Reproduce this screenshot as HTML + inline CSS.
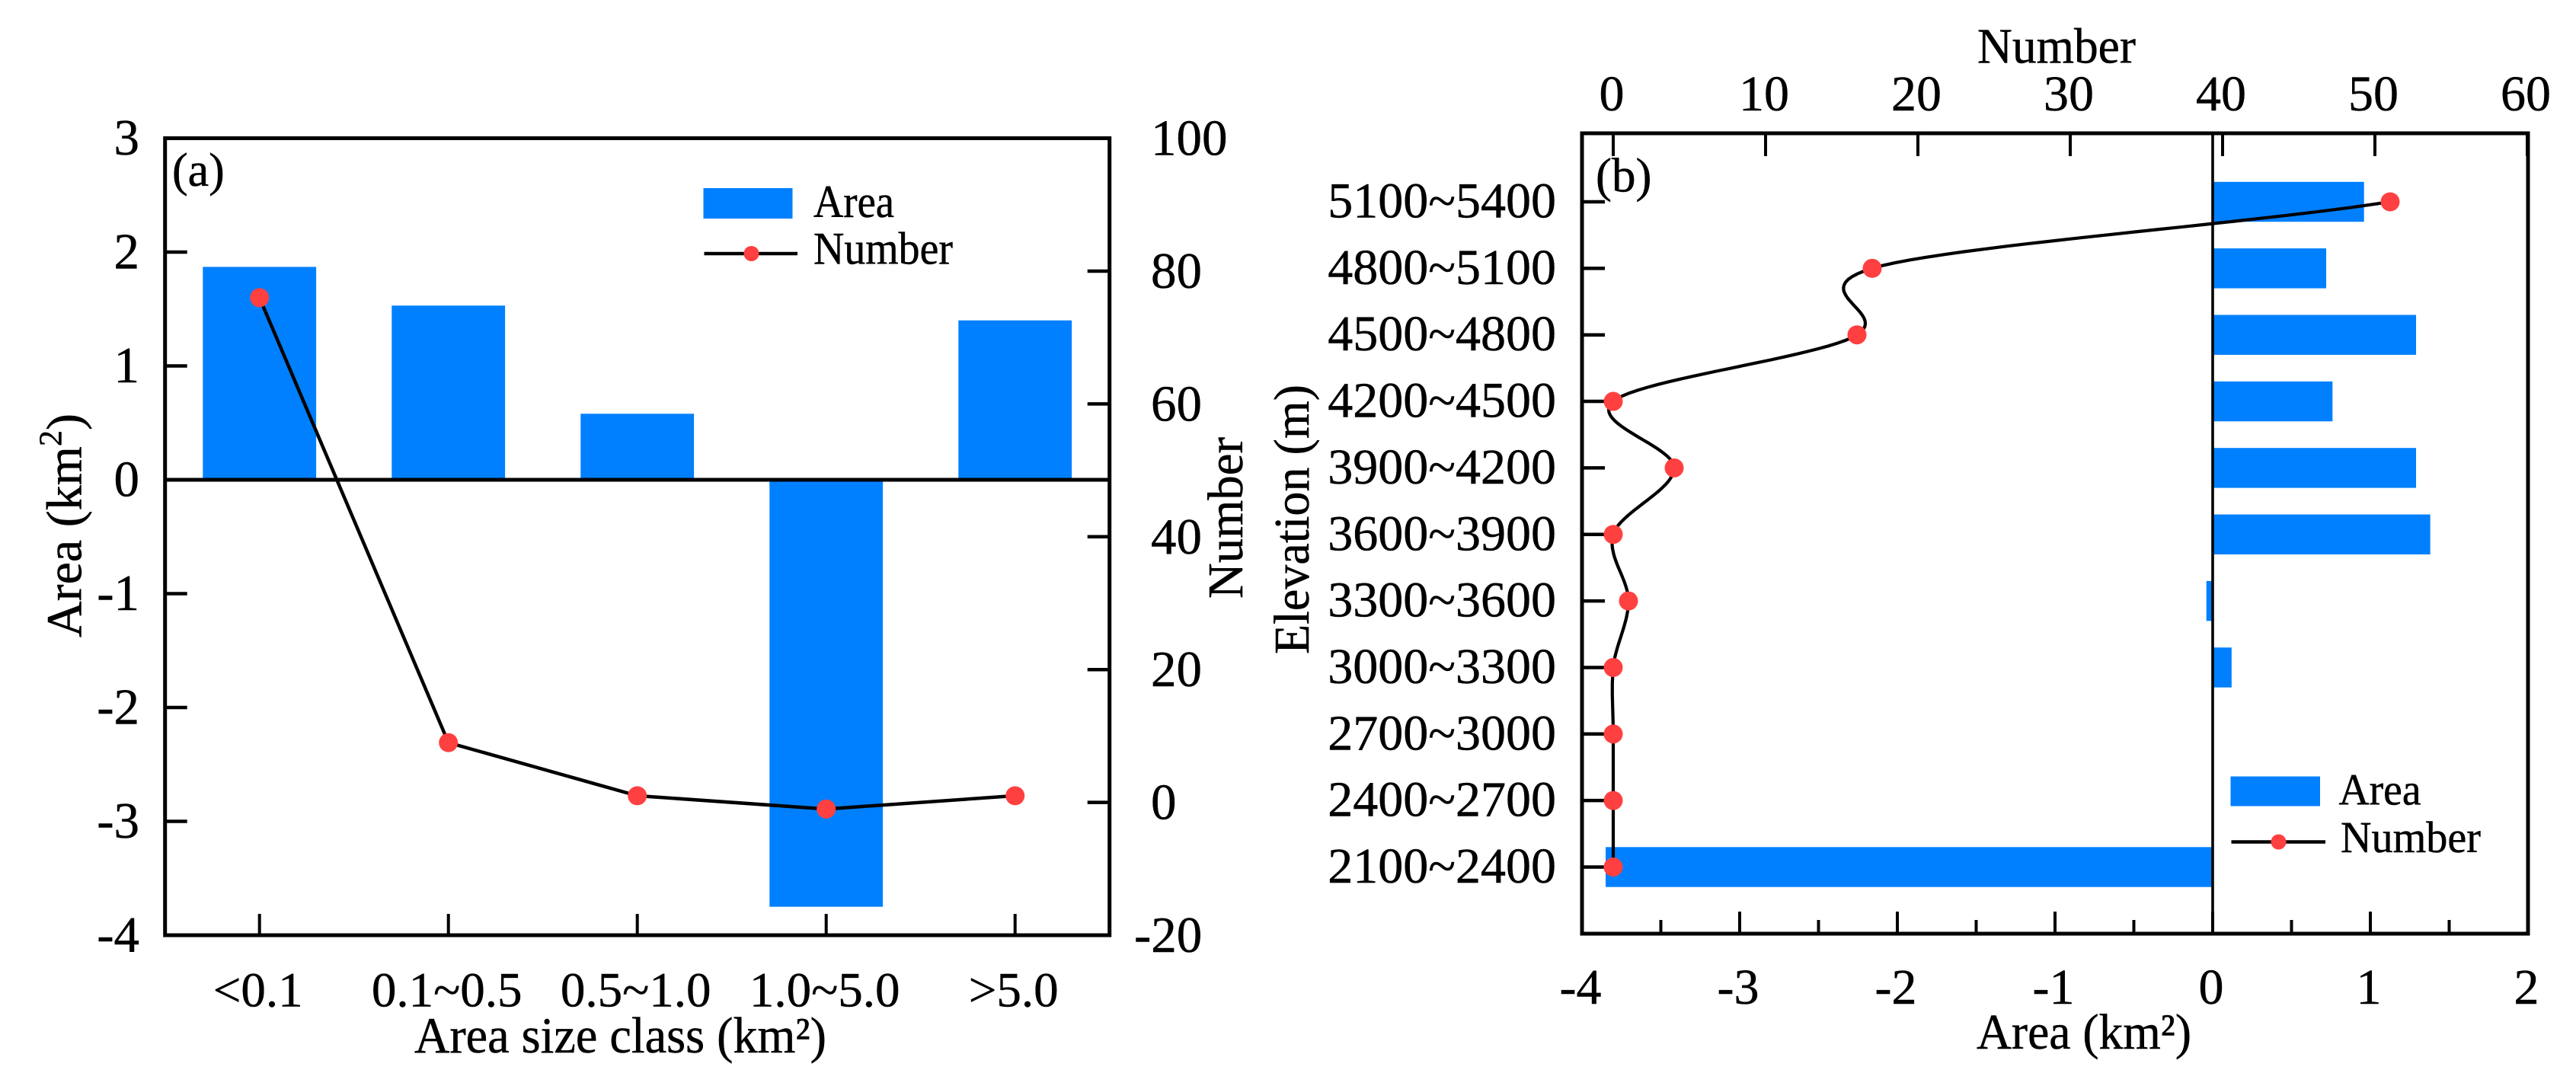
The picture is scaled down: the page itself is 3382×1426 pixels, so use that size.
<!DOCTYPE html>
<html lang="en">
<head>
<meta charset="utf-8">
<title>Area and number by size class and elevation</title>
<style>
html,body{margin:0;padding:0;background:#fff;}
body{width:3382px;height:1426px;overflow:hidden;}
svg{display:block;}
text{font-family:"Liberation Serif",serif;fill:#000;stroke:#000;stroke-width:0.5px;}
</style>
</head>
<body>
<svg id="chart" xmlns="http://www.w3.org/2000/svg" width="3382" height="1426" viewBox="0 0 3382 1426">
  <rect x="0" y="0" width="3382" height="1426" fill="#fff"/>
  <g id="panelA"></g>
  <g id="panelB"></g>

  <text x="226" y="244" font-size="62">(a)</text>
  <text transform="translate(106.5,837) rotate(-90)" font-size="66" textLength="294" lengthAdjust="spacingAndGlyphs">Area (km<tspan font-size="42" dy="-26">2</tspan><tspan dy="26">)</tspan></text>
  <text transform="translate(1631,786) rotate(-90)" font-size="66" textLength="212" lengthAdjust="spacingAndGlyphs">Number</text>
  <text x="544" y="1382" font-size="67" textLength="541" lengthAdjust="spacingAndGlyphs">Area size class (km²)</text>
  <g>
    <rect x="923.5" y="247" width="117" height="40" fill="#0080ff"/>
    <text x="1068" y="285" font-size="60" textLength="106" lengthAdjust="spacingAndGlyphs">Area</text>
    <line x1="924.5" y1="333" x2="1047" y2="333" stroke="#000" stroke-width="4.5"/>
    <circle cx="986.5" cy="333" r="10" fill="#ff4040"/>
    <text x="1068" y="346.5" font-size="60" textLength="183" lengthAdjust="spacingAndGlyphs">Number</text>
  </g>

  <text x="2095" y="251.5" font-size="63">(b)</text>
  <text x="2596" y="82.5" font-size="66" textLength="208" lengthAdjust="spacingAndGlyphs">Number</text>
  <text transform="translate(1718,859) rotate(-90)" font-size="66" textLength="354" lengthAdjust="spacingAndGlyphs">Elevation (m)</text>
  <text x="2595" y="1377" font-size="66" textLength="282" lengthAdjust="spacingAndGlyphs">Area (km²)</text>
  <g>
    <rect x="2928.5" y="1019.5" width="117.5" height="39" fill="#0080ff"/>
    <text x="3070.5" y="1056.5" font-size="58" textLength="108" lengthAdjust="spacingAndGlyphs">Area</text>
    <line x1="2929.5" y1="1105.5" x2="3053" y2="1105.5" stroke="#000" stroke-width="4.5"/>
    <circle cx="2991.5" cy="1105.5" r="10" fill="#ff4040"/>
    <text x="3073" y="1119" font-size="58" textLength="184" lengthAdjust="spacingAndGlyphs">Number</text>
  </g>
</svg>
<script>
// Panel (a) data
var sizeClasses = ['<0.1', '0.1~0.5', '0.5~1.0', '1.0~5.0', '>5.0'];
var sizeArea = [1.87, 1.53, 0.58, -3.75, 1.40];
var sizeNumber = [76, 9, 1, -1, 1];
var sizeAreaTicks = [3, 2, 1, 0, -1, -2, -3, -4];
var sizeNumberTicks = [100, 80, 60, 40, 20, 0, -20];

// Panel (b) data, listed from top of the axis to the bottom
var elevationBands = ['5100~5400', '4800~5100', '4500~4800', '4200~4500', '3900~4200', '3600~3900', '3300~3600', '3000~3300', '2700~3000', '2400~2700', '2100~2400'];
var elevationArea = [0.96, 0.72, 1.29, 0.76, 1.29, 1.38, -0.04, 0.12, 0, 0, -3.85];
var elevationNumber = [51, 17, 16, 0, 4, 0, 1, 0, 0, 0, 0];
var elevationAreaTicks = [-4, -3, -2, -1, 0, 1, 2];
var elevationAreaMinorTicks = [-3.5, -2.5, -1.5, -0.5, 0.5, 1.5];
var elevationNumberTicks = [0, 10, 20, 30, 40, 50, 60];

var NS = 'http://www.w3.org/2000/svg';
var BLUE = '#0080ff', RED = '#ff4040';

function mk(parent, tag, attrs, content) {
  var node = document.createElementNS(NS, tag);
  for (var k in attrs) node.setAttribute(k, attrs[k]);
  if (content !== undefined) node.textContent = content;
  parent.appendChild(node);
  return node;
}

/* ---------- Panel (a) ---------- */
var A = { left: 216.7, right: 1456.7, top: 181.5, bottom: 1228 };
function aX(i) { return A.left + (A.right - A.left) / sizeClasses.length * (i + 0.5); }
function aY(v) { return 630 - 149.5 * v; }
function aN(v) { return 1053.6 - 8.72 * v; }
var aBand = (A.right - A.left) / sizeClasses.length;
var pa = document.getElementById('panelA');

sizeArea.forEach(function (v, i) {
  var y0 = aY(0), y1 = aY(v);
  var bar = mk(pa, 'rect', { x: aX(i) - aBand * 0.3, y: Math.min(y0, y1), width: aBand * 0.6, height: Math.abs(y1 - y0), fill: BLUE });
  
  
});

var aZero = mk(pa, 'line', { x1: A.left, x2: A.right, y1: aY(0), y2: aY(0), stroke: '#000', 'stroke-width': 5 });



sizeAreaTicks.forEach(function (v) {
  var t = mk(pa, 'line', { x1: A.left, x2: A.left + 29, y1: aY(v), y2: aY(v), stroke: '#000', 'stroke-width': 4.5 });
  
  
  var l = mk(pa, 'text', { x: 183, y: aY(v) + 21.5, 'font-size': 67, 'text-anchor': 'end' }, String(v));
  
  
});

sizeNumberTicks.forEach(function (v) {
  var t = mk(pa, 'line', { x1: A.right - 29, x2: A.right, y1: aN(v), y2: aN(v), stroke: '#000', 'stroke-width': 4.5 });
  
  
  var l = mk(pa, 'text', { x: v < 0 ? 1489 : 1511, y: aN(v) + 22, 'font-size': 67 }, String(v));
  
  
});

sizeClasses.forEach(function (c, i) {
  var t = mk(pa, 'line', { x1: aX(i), x2: aX(i), y1: A.bottom - 28, y2: A.bottom, stroke: '#000', 'stroke-width': 4 });
  
  
  var l = mk(pa, 'text', { x: aX(i) - 2, y: 1321.5, 'font-size': 65, 'text-anchor': 'middle' }, c);
  
  
});

var aLine = mk(pa, 'polyline', {
  points: sizeNumber.map(function (v, i) { return aX(i) + ',' + aN(v); }).join(' '),
  fill: 'none', stroke: '#000', 'stroke-width': 4.5
});



sizeNumber.forEach(function (v, i) {
  var d = mk(pa, 'circle', { cx: aX(i), cy: aN(v), r: 12.5, fill: RED });
  
  
});

var aFrame = mk(pa, 'rect', { x: A.left, y: A.top, width: A.right - A.left, height: A.bottom - A.top, fill: 'none', stroke: '#000', 'stroke-width': 5 });



/* ---------- Panel (b) ---------- */
var B = { left: 2077, right: 3319, top: 175, bottom: 1226 };
function bX(v) { return 2905 + 207 * v; }
function bN(v) { return 2118 + 20 * v; }
function bY(i) { return 265 + 87.35 * i; }
var pb = document.getElementById('panelB');

elevationArea.forEach(function (v, i) {
  var x0 = bX(0), x1 = bX(v);
  var bar = mk(pb, 'rect', { x: Math.min(x0, x1), y: bY(i) - 87.35 * 0.3, width: Math.abs(x1 - x0), height: 87.35 * 0.6, fill: BLUE });
  
  
});

var bZero = mk(pb, 'line', { x1: bX(0), x2: bX(0), y1: B.top, y2: B.bottom, stroke: '#000', 'stroke-width': 3.6 });



elevationBands.forEach(function (c, i) {
  var t = mk(pb, 'line', { x1: B.left, x2: B.left + 30, y1: bY(i), y2: bY(i), stroke: '#000', 'stroke-width': 4.5 });
  
  
  var l = mk(pb, 'text', { x: 2043, y: bY(i) + 20.5, 'font-size': 66, 'text-anchor': 'end' }, c);
  
  
});

elevationAreaTicks.forEach(function (v) {
  var t = mk(pb, 'line', { x1: bX(v), x2: bX(v), y1: B.bottom - 29, y2: B.bottom, stroke: '#000', 'stroke-width': 4 });
  
  
  var l = mk(pb, 'text', { x: bX(v) - 2, y: 1318, 'font-size': 66, 'text-anchor': 'middle' }, String(v));
  
  
});

elevationAreaMinorTicks.forEach(function (v) {
  var t = mk(pb, 'line', { x1: bX(v), x2: bX(v), y1: B.bottom - 18, y2: B.bottom, stroke: '#000', 'stroke-width': 4 });
  
  
});

elevationNumberTicks.forEach(function (v) {
  var t = mk(pb, 'line', { x1: bN(v), x2: bN(v), y1: B.top, y2: B.top + 30, stroke: '#000', 'stroke-width': 4 });
  
  
  var l = mk(pb, 'text', { x: bN(v) - 2, y: 145, 'font-size': 66, 'text-anchor': 'middle' }, String(v));
  
  
});

// Smooth curve through the number values, evaluated through the axis functions
function smoothPath(values) {
  var n = values.length, out = [];
  function slope(i) {
    if (i === 0) return values[1] - values[0];
    if (i === n - 1) return values[n - 1] - values[n - 2];
    return (values[i + 1] - values[i - 1]) / 2;
  }
  for (var i = 0; i < n - 1; i++) {
    var m0 = slope(i), m1 = slope(i + 1);
    for (var s = 0; s < 24; s++) {
      var t = s / 24, t2 = t * t, t3 = t2 * t;
      var v = (2 * t3 - 3 * t2 + 1) * values[i] + (t3 - 2 * t2 + t) * m0 * 0.82 + (-2 * t3 + 3 * t2) * values[i + 1] + (t3 - t2) * m1 * 0.82;
      out.push(bN(v).toFixed(1) + ',' + bY(i + t).toFixed(1));
    }
  }
  out.push(bN(values[n - 1]).toFixed(1) + ',' + bY(n - 1).toFixed(1));
  return out.join(' ');
}

var bLine = mk(pb, 'polyline', { points: smoothPath(elevationNumber), fill: 'none', stroke: '#000', 'stroke-width': 4.2 });



elevationNumber.forEach(function (v, i) {
  var d = mk(pb, 'circle', { cx: bN(v), cy: bY(i), r: 12.5, fill: RED });
  
  
});

var bFrame = mk(pb, 'rect', { x: B.left, y: B.top, width: B.right - B.left, height: B.bottom - B.top, fill: 'none', stroke: '#000', 'stroke-width': 5 });


</script>
</body>
</html>
